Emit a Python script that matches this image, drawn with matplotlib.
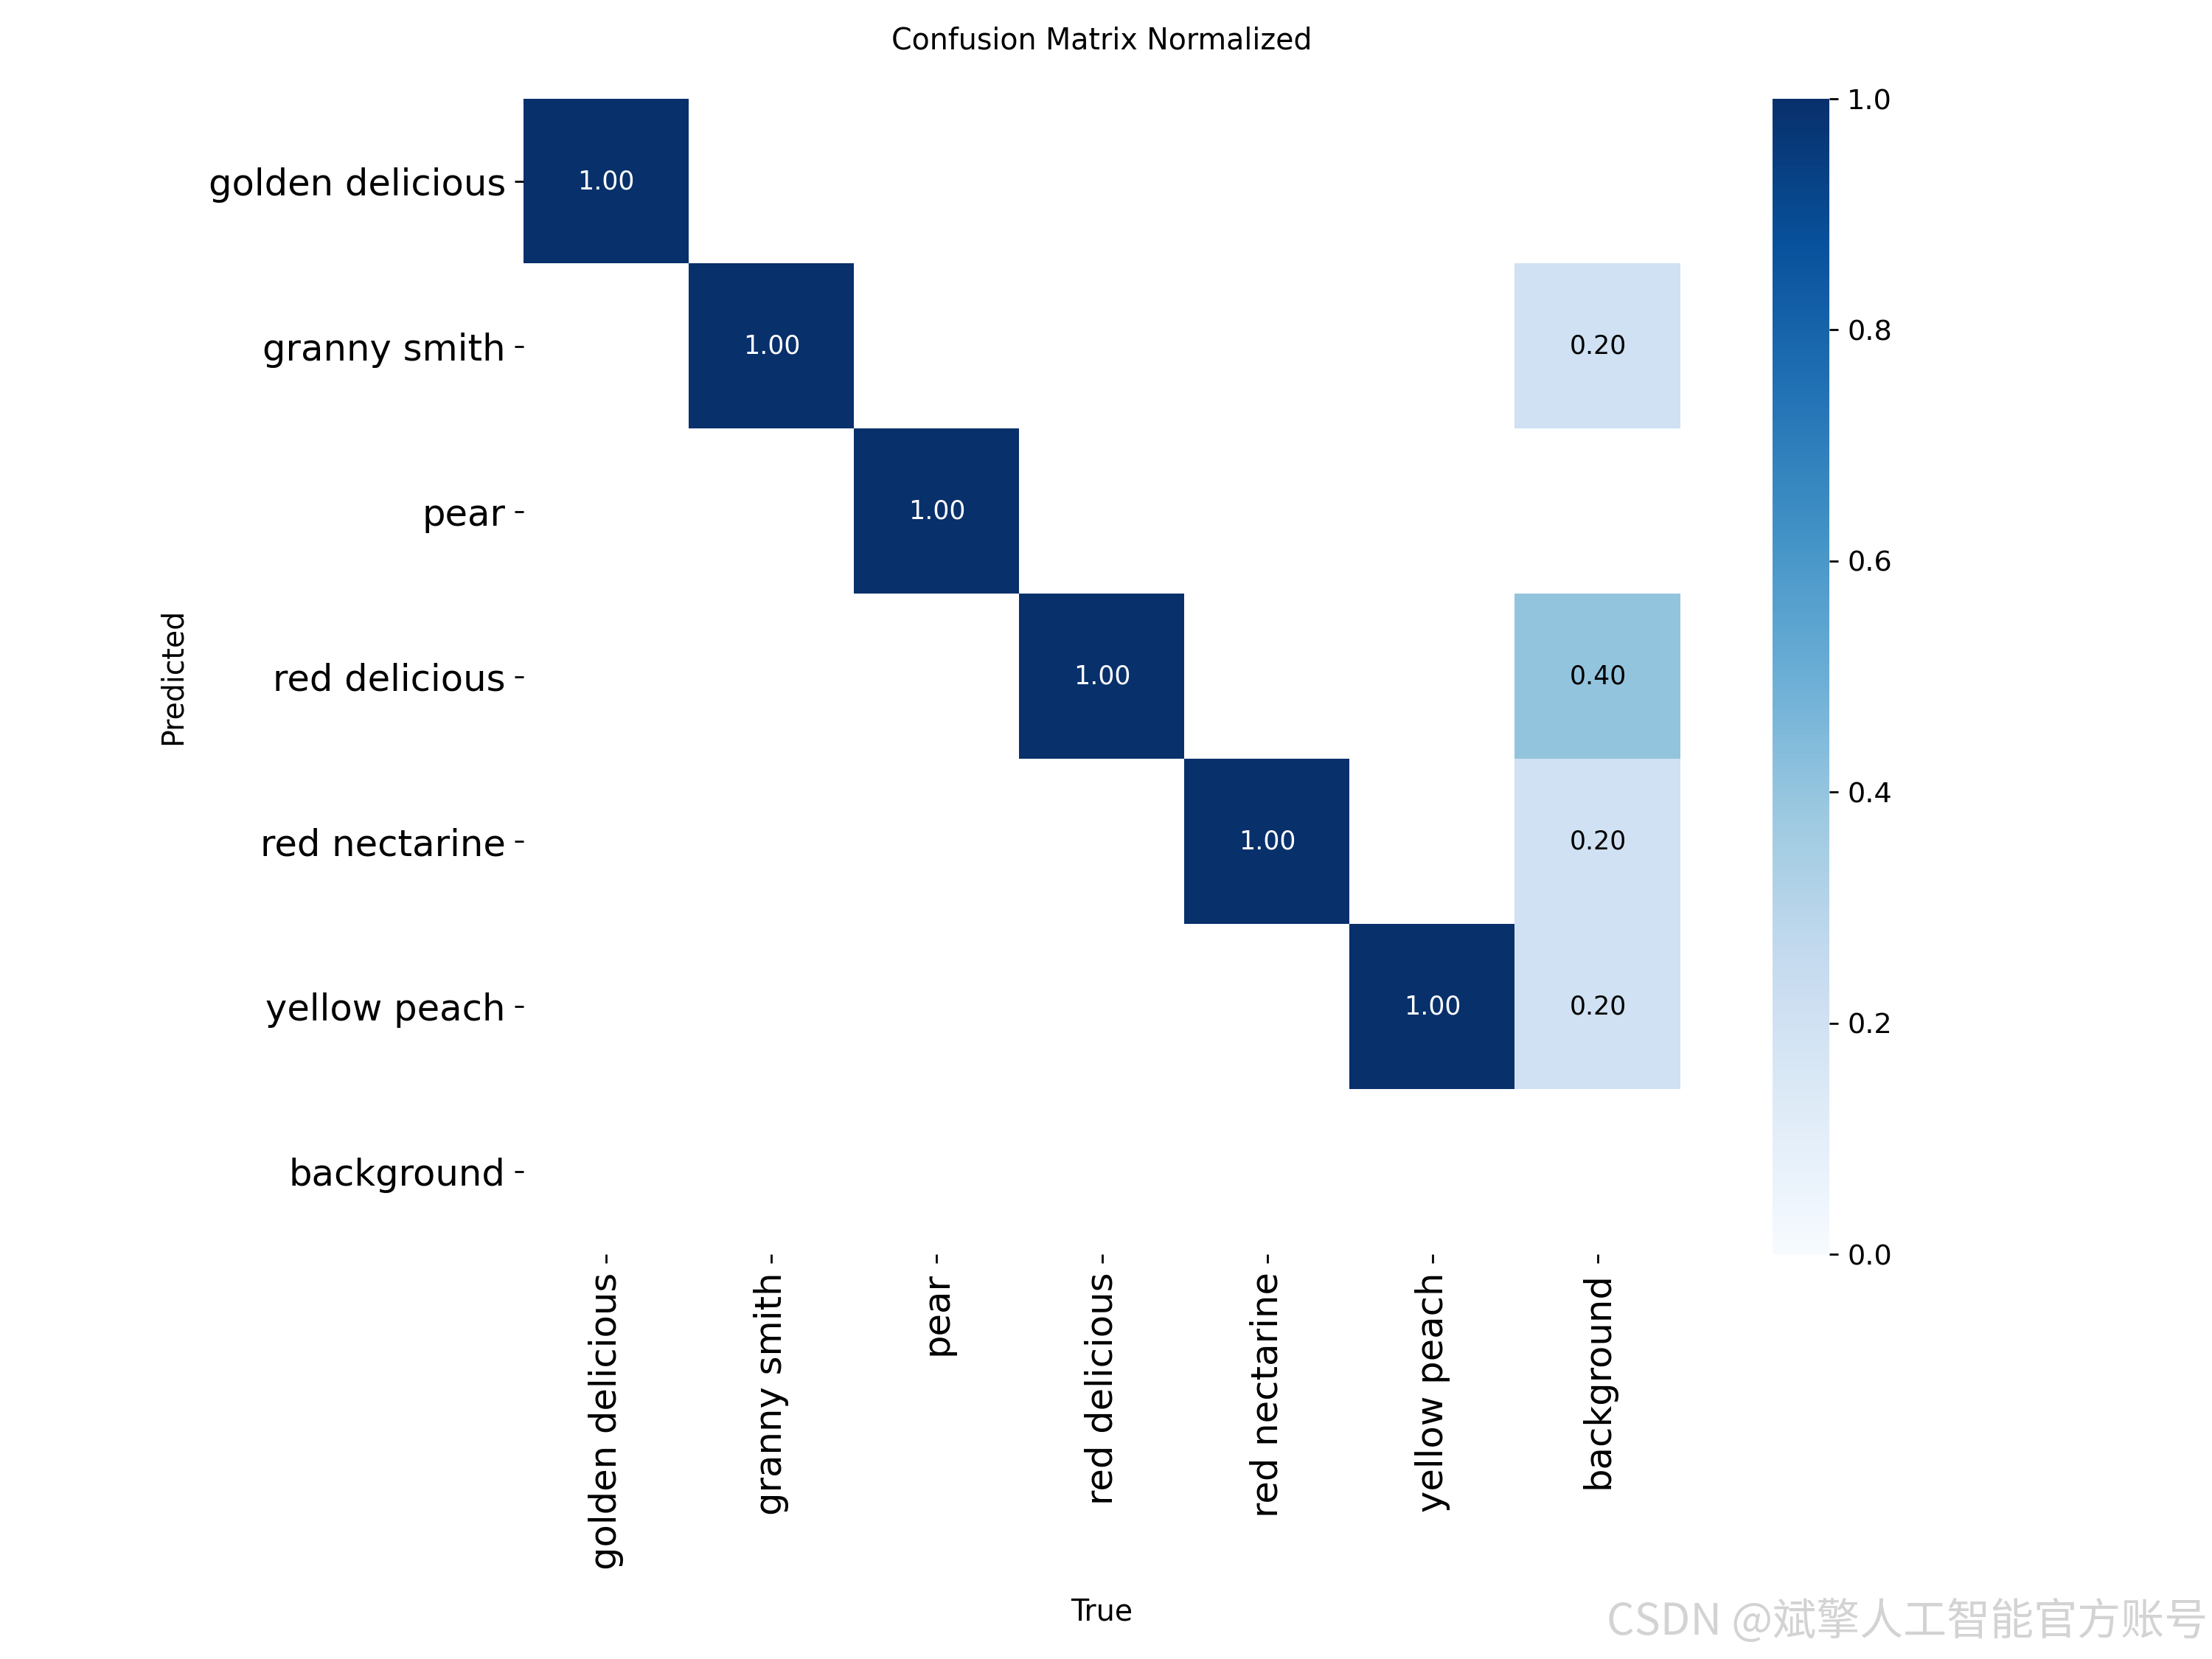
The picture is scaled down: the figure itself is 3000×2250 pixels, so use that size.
import numpy as np
import matplotlib
matplotlib.use("Agg")
from matplotlib import pyplot as plt
from matplotlib import colors

labels = ['golden delicious', 'granny smith', 'pear', 'red delicious',
          'red nectarine', 'yellow peach', 'background']

# rows = predicted, columns = true
row_golden = [1.0, 0, 0, 0, 0, 0, 0]
row_granny = [0, 1.0, 0, 0, 0, 0, 0.2]
row_pear = [0, 0, 1.0, 0, 0, 0, 0]
row_red_del = [0, 0, 0, 1.0, 0, 0, 0.4]
row_nectarine = [0, 0, 0, 0, 1.0, 0, 0.2]
row_peach = [0, 0, 0, 0, 0, 1.0, 0.2]
row_background = [0, 0, 0, 0, 0, 0, 0]

matrix = np.array([row_golden, row_granny, row_pear, row_red_del,
                   row_nectarine, row_peach, row_background])
matrix[matrix < 0.005] = np.nan            # empty cells stay white

fig = plt.figure(figsize=(12, 9), dpi=250)
ax = fig.add_axes([0.2367, 0.244, 0.523, 0.6964])
cax = fig.add_axes([0.8013, 0.244, 0.0257, 0.6964])

cmap = plt.get_cmap('Blues')
norm = colors.Normalize(vmin=0.0, vmax=1.0)
im = ax.imshow(np.ma.masked_invalid(matrix), cmap=cmap, norm=norm,
               aspect='auto', interpolation='nearest')
ax.set_facecolor('white')

n = len(labels)
for i in range(n):
    for j in range(n):
        v = matrix[i, j]
        if np.isnan(v):
            continue
        r, g, b, _ = cmap(norm(v))
        lum = 0.2126 * r + 0.7152 * g + 0.0722 * b
        ax.text(j, i, f'{v:.2f}', ha='center', va='center', fontsize=10,
                color='black' if lum > 0.408 else 'white')

ax.set_xticks(range(n))
ax.set_yticks(range(n))
ax.set_xticklabels(labels, rotation=90, fontsize=14.3)
ax.set_yticklabels(labels, fontsize=14.3)
for s in ax.spines.values():
    s.set_visible(False)

ax.set_title('Confusion Matrix Normalized', fontsize=11.4, pad=19.5)
ax.set_xlabel('True', fontsize=11.4)
ax.set_ylabel('Predicted', fontsize=11.4)
ax.xaxis.set_label_coords(0.5, -0.297)
ax.yaxis.set_label_coords(-0.29, 0.5)

cb = fig.colorbar(im, cax=cax)
cb.outline.set_visible(False)
cb.set_ticks([0.0, 0.2, 0.4, 0.6, 0.8, 1.0])
cb.ax.tick_params(labelsize=11)

fig.text(0.998, 0.022, 'CSDN @斌擎人工智能官方账号', ha='right', va='center',
         fontsize=17, color='#d3d3d3',
         family=['Noto Sans CJK SC', 'DejaVu Sans'])

fig.savefig('out.png', dpi=250, facecolor='white')
